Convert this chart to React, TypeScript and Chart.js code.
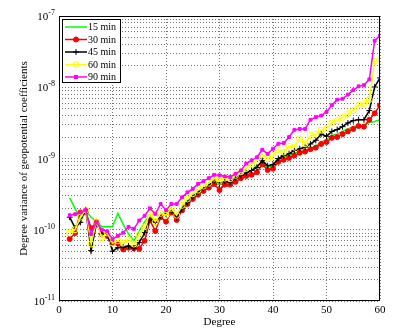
import React, { useEffect, useRef } from 'react';
import { Chart, registerables } from 'chart.js';

Chart.register(...registerables);

const FONT = '"Liberation Serif", "Times New Roman", serif';

const degrees = [2, 3, 4, 5, 6, 7, 8, 9, 10, 11, 12, 13, 14, 15, 16, 17, 18, 19, 20, 21, 22, 23, 24, 25, 26, 27, 28, 29, 30, 31, 32, 33, 34, 35, 36, 37, 38, 39, 40, 41, 42, 43, 44, 45, 46, 47, 48, 49, 50, 51, 52, 53, 54, 55, 56, 57, 58, 59, 60];

const min15 = [2.8e-10, 2.0e-10, 1.4e-10, 1.85e-10, 1.5e-10, 1.3e-10, 1.1e-10, 1.1e-10, 1.1e-10, 1.7e-10, 1.2e-10, 8.7e-11, 7.0e-11, 9.6e-11, 1.3e-10, 1.6e-10, 1.3e-10, 1.6e-10, 1.75e-10, 1.9e-10, 1.6e-10, 2.1e-10, 2.5e-10, 3.0e-10, 3.4e-10, 3.8e-10, 4.2e-10, 4.8e-10, 4.3e-10, 4.8e-10, 4.6e-10, 5.2e-10, 5.7e-10, 6.1e-10, 6.8e-10, 8.0e-10, 8.8e-10, 7.6e-10, 7.9e-10, 9.6e-10, 1.05e-9, 1.1e-9, 1.2e-9, 1.25e-9, 1.3e-9, 1.4e-9, 1.5e-9, 1.7e-9, 1.85e-9, 2.1e-9, 2.2e-9, 2.4e-9, 2.6e-9, 2.8e-9, 2.9e-9, 2.9e-9, 3.2e-9, 3.3e-9, 3.5e-9];

const min30 = [7.4e-11, 9.0e-11, 1.75e-10, 1.8e-10, 1.05e-10, 1.27e-10, 8.6e-11, 8.2e-11, 6.6e-11, 6.4e-11, 5.3e-11, 5.6e-11, 5.5e-11, 5.4e-11, 7.0e-11, 1.35e-10, 9.6e-11, 1.5e-10, 1.3e-10, 1.75e-10, 1.37e-10, 1.87e-10, 2.3e-10, 2.7e-10, 3.1e-10, 3.5e-10, 3.9e-10, 4.4e-10, 3.6e-10, 4.3e-10, 4.3e-10, 4.7e-10, 5.3e-10, 5.7e-10, 5.9e-10, 6.4e-10, 8.3e-10, 6.9e-10, 7.2e-10, 9.0e-10, 9.6e-10, 1.02e-9, 1.1e-9, 1.2e-9, 1.25e-9, 1.35e-9, 1.42e-9, 1.6e-9, 1.7e-9, 1.95e-9, 2.0e-9, 2.2e-9, 2.4e-9, 2.6e-9, 2.85e-9, 2.8e-9, 3.5e-9, 4.3e-9, 5.6e-9];

const min45 = [1.5e-10, 1.06e-10, 1.27e-10, 1.9e-10, 5.1e-11, 1.22e-10, 8.7e-11, 8.7e-11, 5.0e-11, 5.6e-11, 5.7e-11, 5.9e-11, 5.5e-11, 6.6e-11, 9.1e-11, 1.4e-10, 1.27e-10, 1.57e-10, 1.67e-10, 1.86e-10, 1.48e-10, 1.97e-10, 2.4e-10, 2.9e-10, 3.35e-10, 3.75e-10, 4.2e-10, 4.9e-10, 4.4e-10, 4.8e-10, 4.65e-10, 5.3e-10, 5.8e-10, 6.3e-10, 6.8e-10, 7.5e-10, 9.4e-10, 7.9e-10, 8.2e-10, 1.0e-9, 1.1e-9, 1.17e-9, 1.3e-9, 1.37e-9, 1.44e-9, 1.6e-9, 1.8e-9, 2.2e-9, 2.05e-9, 2.4e-9, 2.55e-9, 2.8e-9, 3.15e-9, 3.4e-9, 3.5e-9, 3.5e-9, 4.7e-9, 1.01e-8, 1.35e-8];

const min60 = [9.0e-11, 1.0e-10, 1.5e-10, 1.9e-10, 6.3e-11, 1.3e-10, 7.7e-11, 9.0e-11, 6.5e-11, 7.0e-11, 6.5e-11, 7.3e-11, 6.3e-11, 8.5e-11, 1.1e-10, 1.7e-10, 1.3e-10, 1.7e-10, 1.6e-10, 2.0e-10, 1.6e-10, 2.2e-10, 2.7e-10, 3.2e-10, 3.6e-10, 4.1e-10, 4.5e-10, 5.3e-10, 4.8e-10, 5.3e-10, 5.2e-10, 5.8e-10, 6.5e-10, 7.3e-10, 8.5e-10, 9.4e-10, 1.15e-9, 1.0e-9, 1.1e-9, 1.33e-9, 1.23e-9, 1.48e-9, 1.44e-9, 1.9e-9, 1.61e-9, 2.1e-9, 2.2e-9, 2.5e-9, 2.6e-9, 3.15e-9, 3.4e-9, 3.74e-9, 4.26e-9, 4.7e-9, 5.6e-9, 5.9e-9, 6.7e-9, 2.32e-8, 2.46e-8];

const min90 = [1.6e-10, 1.65e-10, 1.75e-10, 1.9e-10, 8.7e-11, 1.27e-10, 1.0e-10, 9.5e-11, 7.4e-11, 8.2e-11, 9.1e-11, 1.1e-10, 1.03e-10, 1.35e-10, 1.57e-10, 2.0e-10, 1.67e-10, 2.3e-10, 1.88e-10, 2.3e-10, 2.3e-10, 2.85e-10, 3.35e-10, 3.75e-10, 4.4e-10, 4.8e-10, 5.3e-10, 5.9e-10, 5.8e-10, 5.6e-10, 5.5e-10, 6.1e-10, 6.8e-10, 8.5e-10, 9.4e-10, 1.04e-9, 1.33e-9, 1.16e-9, 1.37e-9, 1.61e-9, 1.65e-9, 2.0e-9, 2.53e-9, 2.6e-9, 2.6e-9, 3.5e-9, 3.8e-9, 4.0e-9, 4.5e-9, 5.6e-9, 6.7e-9, 6.9e-9, 7.9e-9, 9.1e-9, 1.03e-8, 1.07e-8, 1.29e-8, 4.5e-8, 5.3e-8];

const xTicks = [0, 10, 20, 30, 40, 50, 60];
const yDecades = [-11, -10, -9, -8, -7];
const yMantissas = [1, 2, 3, 4, 5, 6, 7, 8, 9];

const seriesLabels = ['15 min', '30 min', '45 min', '60 min', '90 min'];
const seriesColors = ['#00ff00', '#ff0000', '#000000', '#ffff00', '#ff00ff'];
const seriesValues = [min15, min30, min45, min60, min90];
const seriesPoint = ['line', 'circle', 'cross', 'circle', 'rect'];
const seriesPointBg = ['#00ff00', '#ff0000', '#000000', 'rgba(255,255,255,0)', '#ff00ff'];
const seriesRadius = [0, 2.5, 3, 3, 2];

function drawMarker(ctx: CanvasRenderingContext2D, i: number, x: number, y: number) {
  const c = seriesColors[i];
  ctx.save();
  ctx.strokeStyle = c;
  ctx.fillStyle = c;
  ctx.lineWidth = 1;
  const st = seriesPoint[i];
  const r = seriesRadius[i];
  if (st === 'circle') {
    ctx.beginPath();
    ctx.arc(x, y, r, 0, Math.PI * 2);
    if (i === 1) ctx.fill();
    ctx.stroke();
  } else if (st === 'cross') {
    ctx.beginPath();
    ctx.moveTo(x - r, y); ctx.lineTo(x + r, y);
    ctx.moveTo(x, y - r); ctx.lineTo(x, y + r);
    ctx.stroke();
  } else if (st === 'rect') {
    ctx.fillRect(x - r, y - r, r * 2, r * 2);
  }
  ctx.restore();
}

const overlayPlugin = {
  id: 'overlay',
  afterDraw(chart: any) {
    const { ctx, chartArea: a, scales } = chart;
    ctx.save();
    // frame
    ctx.strokeStyle = '#000';
    ctx.lineWidth = 1;
    ctx.setLineDash([]);
    ctx.strokeRect(a.left + 0.5, a.top + 0.5, a.right - a.left - 1, a.bottom - a.top - 1);

    // y tick labels with superscripts
    const ys = scales.y;
    ctx.fillStyle = '#000';
    for (const e of yDecades) {
      const py = ys.getPixelForValue(Math.pow(10, e));
      const sup = '-' + String(-e);
      ctx.font = '8px ' + FONT;
      const sw = ctx.measureText(sup).width;
      const right = a.left - 4;
      ctx.textBaseline = 'alphabetic';
      ctx.textAlign = 'right';
      ctx.fillText(sup, right, py - 1);
      ctx.font = '11px ' + FONT;
      ctx.fillText('10', right - sw, py + 4);
    }

    // legend
    const lx = 62, ly = 19, lw = 59, lh = 64;
    ctx.fillStyle = '#fff';
    ctx.fillRect(lx, ly, lw, lh);
    ctx.strokeStyle = '#000';
    ctx.strokeRect(lx + 0.5, ly + 0.5, lw - 1, lh - 1);
    for (let i = 0; i < seriesLabels.length; i++) {
      const ry = ly + 8 + i * 12.5;
      ctx.strokeStyle = seriesColors[i];
      ctx.lineWidth = 1.5;
      ctx.beginPath();
      ctx.moveTo(lx + 3, ry);
      ctx.lineTo(lx + 25, ry);
      ctx.stroke();
      drawMarker(ctx, i, lx + 14, ry);
      ctx.fillStyle = '#000';
      ctx.font = '10px ' + FONT;
      ctx.textAlign = 'left';
      ctx.textBaseline = 'middle';
      ctx.fillText(seriesLabels[i], lx + 26, ry + 0.5);
    }
    ctx.restore();
  },
};

export default function App() {
  const ref = useRef<HTMLCanvasElement | null>(null);
  useEffect(() => {
    if (!ref.current) return;
    const datasets = seriesValues.map((vals, i) => ({
      label: seriesLabels[i],
      data: degrees.map((d, k) => ({ x: d, y: vals[k] })),
      borderColor: seriesColors[i],
      backgroundColor: seriesPointBg[i],
      pointBorderColor: seriesColors[i],
      pointBackgroundColor: seriesPointBg[i],
      pointStyle: seriesPoint[i] === 'line' ? false : seriesPoint[i],
      pointRadius: seriesRadius[i],
      pointBorderWidth: 1,
      borderWidth: 1.5,
      tension: 0,
      order: 5 - i,
    }));
    const chart = new Chart(ref.current, {
      type: 'line',
      data: { datasets: datasets as any },
      options: {
        animation: false,
        responsive: false,
        devicePixelRatio: 1,
        layout: { padding: { left: 0, right: 35, top: 16, bottom: 0 } },
        plugins: { legend: { display: false }, tooltip: { enabled: false } },
        scales: {
          x: {
            type: 'linear',
            min: 0,
            max: 60,
            afterBuildTicks: (s: any) => { s.ticks = xTicks.map((v) => ({ value: v })); },
            afterFit: (s: any) => { s.height = 30; },
            ticks: { color: '#000', font: { family: FONT, size: 11 }, padding: 3 },
            grid: { color: 'rgba(0,0,0,0.55)', drawTicks: false, lineWidth: 1 },
            border: { display: false, dash: [1, 2] },
            title: { display: true, text: 'Degree', color: '#000', font: { family: FONT, size: 11 }, padding: { top: 0, bottom: 2 } },
          },
          y: {
            type: 'logarithmic',
            min: 1e-11,
            max: 1e-7,
            afterBuildTicks: (s: any) => {
              const t: any[] = [];
              for (const e of yDecades) {
                for (const m of yMantissas) {
                  const v = m * Math.pow(10, e);
                  if (v <= 1.0000001e-7) t.push({ value: v, major: m === 1 });
                }
              }
              s.ticks = t;
            },
            afterFit: (s: any) => { s.width = 59; },
            ticks: { display: false, autoSkip: false },
            grid: { color: 'rgba(0,0,0,0.55)', drawTicks: false, lineWidth: 1 },
            border: { display: false, dash: [1, 2] },
            title: { display: true, text: 'Degree variance of geopotential coefficients', color: '#000', font: { family: FONT, size: 11 }, padding: { top: 18, bottom: 0 } },
          },
        },
      },
      plugins: [overlayPlugin],
    } as any);
    return () => chart.destroy();
  }, []);
  return (
    <div style={{ position: 'absolute', left: 0, top: 0, width: 415, height: 331, background: '#fff' }}>
      <canvas ref={ref} width={415} height={331} style={{ display: 'block' }} />
    </div>
  );
}
